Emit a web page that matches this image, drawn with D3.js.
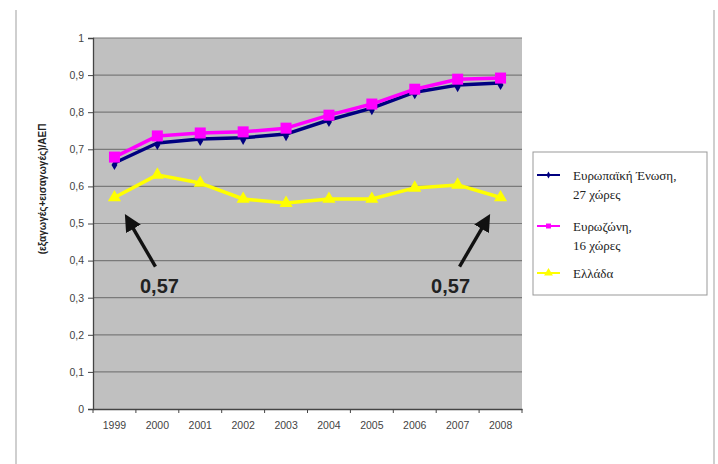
<!DOCTYPE html>
<html>
<head>
<meta charset="utf-8">
<script src="https://cdn.jsdelivr.net/npm/d3@7"></script>
<style>
  html, body { margin: 0; padding: 0; background: #fff; }
  svg { display: block; }
</style>
</head>
<body>
<svg id="chart" width="718" height="464"></svg>
<script>
// Openness of the economy: (exports + imports) / GDP
const years = ["1999", "2000", "2001", "2002", "2003", "2004", "2005", "2006", "2007", "2008"];
const eu27 = [0.663, 0.717, 0.728, 0.731, 0.741, 0.779, 0.811, 0.854, 0.873, 0.879];
const eurozone = [0.679, 0.736, 0.744, 0.747, 0.757, 0.792, 0.822, 0.862, 0.889, 0.892];
const greece = [0.57, 0.631, 0.609, 0.566, 0.555, 0.566, 0.566, 0.596, 0.604, 0.57];
const yTicks = [0, 0.1, 0.2, 0.3, 0.4, 0.5, 0.6, 0.7, 0.8, 0.9, 1];
const seriesNames = [["Ευρωπαϊκή Ένωση,", "27 χώρες"], ["Ευρωζώνη,", "16 χώρες"], ["Ελλάδα"]];
const yAxisTitle = "(εξαγωγές+εισαγωγές)/ΑΕΠ";
// annotated points: [year, value]
const callouts = [["1999", 0.57], ["2008", 0.57]];

const svg = d3.select("#chart");
const plot = { left: 93, right: 522, top: 38, bottom: 409 };

const x = d3.scaleBand().domain(years).range([plot.left, plot.right]);
const y = d3.scaleLinear().domain([0, 1]).range([plot.bottom, plot.top]);
const fmt = d => d3.format("")(d).replace(".", ",");

// outer frame edges
svg.append("line").attr("x1", 16).attr("x2", 16).attr("y1", 10).attr("y2", 464)
  .attr("stroke", "#cfcfcf").attr("stroke-width", 2);
svg.append("line").attr("x1", 714).attr("x2", 714).attr("y1", 10).attr("y2", 464)
  .attr("stroke", "#cfcfcf").attr("stroke-width", 2);

// plot background
svg.append("rect")
  .attr("x", plot.left).attr("y", plot.top)
  .attr("width", plot.right - plot.left).attr("height", plot.bottom - plot.top)
  .attr("fill", "#c0c0c0");

// horizontal gridlines
svg.append("g").selectAll("line").data(yTicks.filter(d => d > 0)).join("line")
  .attr("x1", plot.left).attr("x2", plot.right)
  .attr("y1", d => y(d)).attr("y2", d => y(d))
  .attr("stroke", "#7a7a7a").attr("stroke-width", 1.2);

// y axis
const yAxis = svg.append("g")
  .attr("transform", `translate(${plot.left},0)`)
  .call(d3.axisLeft(y).tickValues(yTicks).tickFormat(fmt).tickSize(5).tickPadding(4));
yAxis.select(".domain").attr("stroke", "#444").attr("stroke-width", 1.3);
yAxis.selectAll(".tick line").attr("stroke", "#444");
yAxis.selectAll("text").attr("font-family", "Arial, 'Liberation Sans', sans-serif")
  .attr("font-size", 10.5).attr("fill", "#444");

// x axis
const xAxis = svg.append("g")
  .attr("transform", `translate(0,${plot.bottom})`)
  .call(d3.axisBottom(x).tickSize(0).tickPadding(13));
xAxis.select(".domain").attr("stroke", "#444").attr("stroke-width", 1.3);
xAxis.selectAll("text").attr("font-family", "Arial, 'Liberation Sans', sans-serif")
  .attr("font-size", 10.5).attr("fill", "#444");
// category boundary ticks
svg.append("g").selectAll("line").data(years.concat(["end"])).join("line")
  .attr("x1", (d, i) => plot.left + i * x.bandwidth())
  .attr("x2", (d, i) => plot.left + i * x.bandwidth())
  .attr("y1", plot.bottom).attr("y2", plot.bottom + 4)
  .attr("stroke", "#444");

// y axis title
svg.append("text")
  .attr("transform", `translate(46,189) rotate(-90)`)
  .attr("text-anchor", "middle")
  .attr("font-family", "Arial, 'Liberation Sans', sans-serif")
  .attr("font-size", 10).attr("font-weight", "bold").attr("fill", "#222")
  .text(yAxisTitle);

const cx = d => x(d) + x.bandwidth() / 2;
const line = d3.line().x((d, i) => cx(years[i])).y(d => y(d));

const series = [
  { values: eu27, color: "#000080", shape: "diamond" },
  { values: eurozone, color: "#ff00ff", shape: "square" },
  { values: greece, color: "#ffff00", shape: "triangle" }
];

function marker(g, shape, color, scale) {
  const s = scale || 1;
  if (shape === "diamond") {
    g.append("path").attr("d", d3.symbol(d3.symbolDiamond, 30 * s)())
      .attr("fill", color);
  } else if (shape === "square") {
    g.append("rect").attr("x", -5.5 * s).attr("y", -5.5 * s)
      .attr("width", 11 * s).attr("height", 11 * s).attr("fill", color);
  } else {
    g.append("path").attr("d", d3.symbol(d3.symbolTriangle, 75 * s)())
      .attr("fill", color);
  }
}

// draw Greece first, then EU27, then Eurozone on top
[2, 0, 1].forEach(k => {
  const s = series[k];
  svg.append("path").datum(s.values)
    .attr("d", line).attr("fill", "none")
    .attr("stroke", s.color).attr("stroke-width", 3.5)
    .attr("stroke-linejoin", "round");
  s.values.forEach((v, i) => {
    const g = svg.append("g").attr("transform", `translate(${cx(years[i])},${y(v) + (k === 0 ? 2 : 0)})`);
    marker(g, s.shape, s.color);
  });
});

// callout arrows with value labels
svg.append("defs").append("marker")
  .attr("id", "arrowhead").attr("viewBox", "0 0 10 10")
  .attr("refX", 7).attr("refY", 5)
  .attr("markerWidth", 5).attr("markerHeight", 5)
  .attr("orient", "auto")
  .append("path").attr("d", "M0,0 L10,5 L0,10 Z").attr("fill", "#111");

callouts.forEach(([yr, val], i) => {
  const px = cx(yr), py = y(val);
  const dir = i === 0 ? 1 : -1;
  const tip = [px + dir * 13, py + 21];
  const tail = [px + dir * 41, py + 69];
  svg.append("line")
    .attr("x1", tail[0]).attr("y1", tail[1]).attr("x2", tip[0]).attr("y2", tip[1])
    .attr("stroke", "#111").attr("stroke-width", 3.4)
    .attr("marker-end", "url(#arrowhead)");
  svg.append("text")
    .attr("x", px + dir * (i === 0 ? 45 : 50)).attr("y", py + 95)
    .attr("text-anchor", "middle")
    .attr("font-family", "Arial, 'Liberation Sans', sans-serif")
    .attr("font-size", 20).attr("font-weight", "bold").attr("fill", "#222")
    .text(fmt(val));
});

// legend
const legend = svg.append("g");
legend.append("rect").attr("x", 533).attr("y", 152).attr("width", 174).attr("height", 143)
  .attr("fill", "#fff").attr("stroke", "#999").attr("stroke-width", 1);
const legendY = [175, 226, 273];
[0, 1, 2].forEach(k => {
  const s = series[k];
  const ly = legendY[k];
  legend.append("line").attr("x1", 537).attr("x2", 560).attr("y1", ly).attr("y2", ly)
    .attr("stroke", s.color).attr("stroke-width", 2);
  marker(legend.append("g").attr("transform", `translate(548.5,${ly})`), s.shape, s.color, 0.45);
  seriesNames[k].forEach((t, j) => {
    legend.append("text").attr("x", 573).attr("y", ly + 4.5 + j * 19)
      .attr("font-family", "'Liberation Serif', 'DejaVu Serif', 'Times New Roman', serif")
      .attr("font-size", 13).attr("fill", "#222").text(t);
  });
});
</script>
</body>
</html>
